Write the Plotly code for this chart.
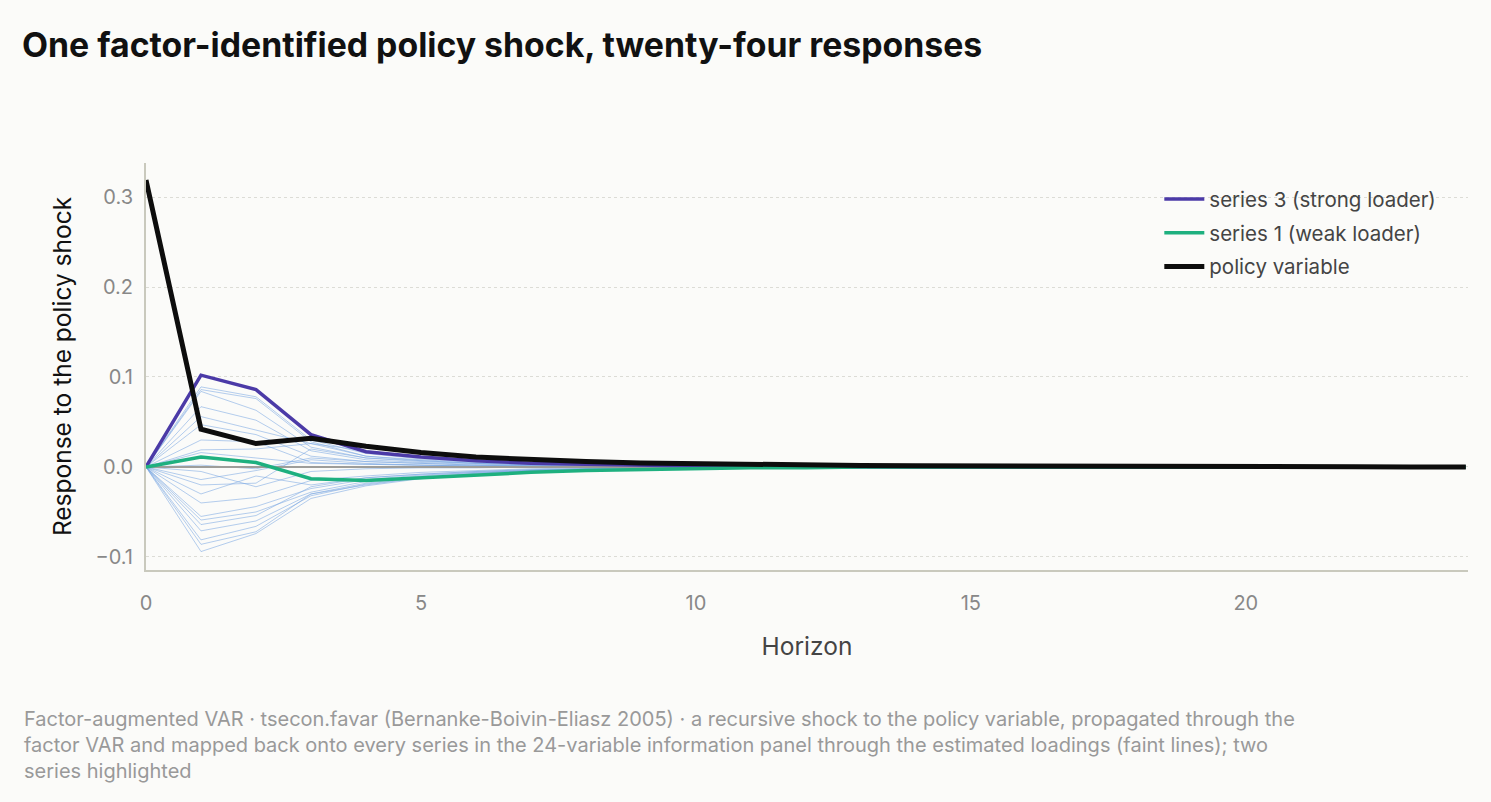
import plotly.graph_objects as go

horizon = list(range(25))
faint_h = list(range(13))

policy = [0.319, 0.042, 0.026, 0.032, 0.023, 0.016, 0.011, 0.008, 0.006, 0.0045, 0.0035, 0.0027, 0.0021,
          0.0016, 0.0013, 0.0010, 0.0008, 0.0006, 0.0005, 0.0004, 0.0003, 0.0002, 0.0002, 0.0001, 0.0001]
series3 = [0.0, 0.102, 0.086, 0.036, 0.017, 0.011, 0.007, 0.004, 0.003, 0.002, 0.001, 0.001, 0.0,
           0.0, 0.0, 0.0, 0.0, 0.0, 0.0, 0.0, 0.0, 0.0, 0.0, 0.0, 0.0]
series1 = [0.0, 0.011, 0.005, -0.013, -0.015, -0.012, -0.009, -0.006, -0.004, -0.003, -0.002, -0.001, -0.001,
           0.0, 0.0, 0.0, 0.0, 0.0, 0.0, 0.0, 0.0, 0.0, 0.0, 0.0, 0.0]

panel = [
    [0.0, 0.011, 0.005, -0.013, -0.015, -0.012, -0.009, -0.006, -0.004, -0.003, -0.002, -0.001, 0.0],
    [0.0, 0.089, 0.078, 0.030, 0.015, 0.009, 0.006, 0.004, 0.002, 0.001, 0.001, 0.0, 0.0],
    [0.0, 0.102, 0.086, 0.036, 0.017, 0.011, 0.007, 0.004, 0.003, 0.002, 0.001, 0.001, 0.0],
    [0.0, 0.086, 0.076, 0.028, 0.012, 0.008, 0.005, 0.003, 0.002, 0.001, 0.001, 0.0, 0.0],
    [0.0, 0.084, 0.063, 0.022, 0.010, 0.007, 0.004, 0.003, 0.002, 0.001, 0.0, 0.0, 0.0],
    [0.0, 0.067, 0.052, 0.018, 0.008, 0.005, 0.003, 0.002, 0.001, 0.001, 0.0, 0.0, 0.0],
    [0.0, 0.056, 0.041, 0.026, 0.012, 0.007, 0.004, 0.003, 0.002, 0.001, 0.0, 0.0, 0.0],
    [0.0, 0.047, 0.036, 0.012, 0.006, 0.004, 0.002, 0.001, 0.001, 0.0, 0.0, 0.0, 0.0],
    [0.0, 0.030, 0.028, 0.005, 0.003, 0.002, 0.001, 0.001, 0.0, 0.0, 0.0, 0.0, 0.0],
    [0.0, 0.019, 0.020, 0.026, 0.018, 0.011, 0.007, 0.004, 0.003, 0.002, 0.001, 0.0, 0.0],
    [0.0, 0.016, 0.010, 0.004, 0.003, 0.002, 0.001, 0.001, 0.0, 0.0, 0.0, 0.0, 0.0],
    [0.0, 0.002, -0.002, 0.010, 0.006, 0.004, 0.002, 0.001, 0.001, 0.0, 0.0, 0.0, 0.0],
    [0.0, -0.005, -0.022, -0.005, -0.002, -0.001, -0.001, 0.0, 0.0, 0.0, 0.0, 0.0, 0.0],
    [0.0, -0.014, -0.004, 0.008, 0.004, 0.002, 0.001, 0.001, 0.0, 0.0, 0.0, 0.0, 0.0],
    [0.0, -0.020, -0.018, 0.020, 0.010, 0.006, 0.004, 0.002, 0.001, 0.001, 0.0, 0.0, 0.0],
    [0.0, -0.030, -0.010, -0.020, -0.012, -0.008, -0.005, -0.003, -0.002, -0.001, 0.0, 0.0, 0.0],
    [0.0, -0.040, -0.034, -0.015, -0.010, -0.006, -0.004, -0.002, -0.001, -0.001, 0.0, 0.0, 0.0],
    [0.0, -0.055, -0.044, -0.024, -0.014, -0.009, -0.006, -0.004, -0.002, -0.001, -0.001, 0.0, 0.0],
    [0.0, -0.059, -0.050, -0.028, -0.016, -0.010, -0.006, -0.004, -0.002, -0.001, -0.001, 0.0, 0.0],
    [0.0, -0.064, -0.054, -0.022, -0.012, -0.008, -0.005, -0.003, -0.002, -0.001, 0.0, 0.0, 0.0],
    [0.0, -0.071, -0.060, -0.030, -0.018, -0.011, -0.007, -0.004, -0.003, -0.002, -0.001, 0.0, 0.0],
    [0.0, -0.081, -0.066, -0.032, -0.019, -0.012, -0.007, -0.004, -0.003, -0.002, -0.001, 0.0, 0.0],
    [0.0, -0.086, -0.072, -0.030, -0.020, -0.012, -0.008, -0.005, -0.003, -0.002, -0.001, 0.0, 0.0],
    [0.0, -0.094, -0.074, -0.035, -0.021, -0.013, -0.008, -0.005, -0.003, -0.002, -0.001, 0.0, 0.0],
]

y_ticks = [-0.1, 0.0, 0.1, 0.2, 0.3]
x_ticks = [0, 5, 10, 15, 20]

FONT = "Inter, Liberation Sans, Arial, sans-serif"
fig = go.Figure()

for row in panel:
    fig.add_trace(go.Scatter(x=faint_h, y=row, mode="lines",
                             line=dict(color="rgba(120,165,225,0.55)", width=1),
                             showlegend=False, hoverinfo="skip"))

fig.add_trace(go.Scatter(x=[horizon[0], horizon[-1]], y=[0, 0], mode="lines",
                         line=dict(color="#9d9d9a", width=2), showlegend=False, hoverinfo="skip"))

fig.add_trace(go.Scatter(x=horizon, y=series3, mode="lines", name="series 3 (strong loader)",
                         legendgroup="a", line=dict(color="#4b3aa7", width=3.5)))
fig.add_trace(go.Scatter(x=horizon, y=series1, mode="lines", name="series 1 (weak loader)",
                         legendgroup="b", line=dict(color="#1eb07f", width=3.5)))
fig.add_trace(go.Scatter(x=horizon, y=policy, mode="lines", name="policy variable",
                         legendgroup="c", line=dict(color="#0d0d0d", width=5)))

caption = ("Factor-augmented VAR · tsecon.favar (Bernanke-Boivin-Eliasz 2005) · a recursive shock to the policy variable, propagated through the<br>"
           "factor VAR and mapped back onto every series in the 24-variable information panel through the estimated loadings (faint lines); two<br>"
           "series highlighted")

fig.update_layout(
    width=1491, height=802,
    paper_bgcolor="#fbfbf9", plot_bgcolor="#fbfbf9",
    margin=dict(l=146, r=23, t=163, b=232),
    font=dict(family=FONT, color="#444"),
    title=dict(text="<b>One factor-identified policy shock, twenty-four responses</b>",
               x=22 / 1491, xanchor="left", y=1 - 45 / 802, yanchor="middle",
               font=dict(size=33.8, color="#111", family=FONT)),
    showlegend=True,
    legend=dict(x=0.7665, xanchor="left", y=0.96, yanchor="top", traceorder="grouped",
                bgcolor="rgba(0,0,0,0)", font=dict(size=20.5, color="#444"),
                itemwidth=40, tracegroupgap=4),
    xaxis=dict(range=[0, 24.04], tickvals=x_ticks, showgrid=False, zeroline=False,
               showline=True, linecolor="#c9c9bd", linewidth=2,
               tickfont=dict(size=20, color="#888"), ticks="", ticklabelstandoff=14,
               title=dict(text="Horizon", font=dict(size=24.5, color="#444"), standoff=24)),
    yaxis=dict(range=[-0.1145, 0.3378], tickvals=y_ticks, tickformat=".1f",
               showgrid=True, gridcolor="#dcdcd6", griddash="dot", gridwidth=1,
               zeroline=False, showline=True, linecolor="#c9c9bd", linewidth=2,
               tickfont=dict(size=20, color="#888"), ticks="", ticklabelstandoff=7,
               title=dict(text="Response to the policy shock", font=dict(size=24.5, color="#111"), standoff=17)),
    annotations=[dict(text=caption, xref="paper", yref="paper", x=(22 - 146) / 1322, xanchor="left",
                      y=-(705 - 570) / 407, yanchor="top", showarrow=False, align="left",
                      font=dict(size=20, color="#999", family=FONT))],
)

fig.write_html("out.html")
